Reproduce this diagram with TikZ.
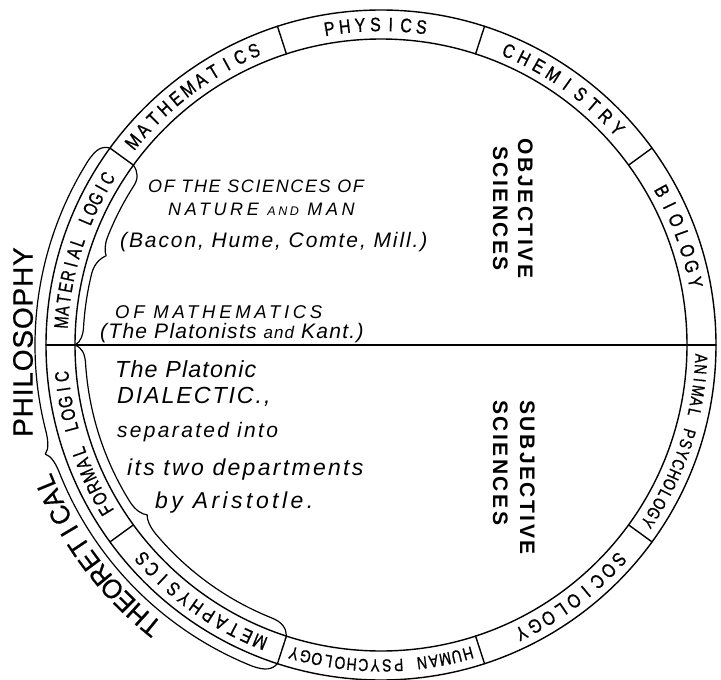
\documentclass[tikz,border=0pt]{standalone}
\usepackage{fontspec}
\usepackage{graphicx}
\setmainfont{Liberation Sans}
\newcommand\ringtext[7][0.82]{% #1 xscale, #2 name, #3 centre angle, #4 pitch, #5 radius, #6 font, #7 letters
  \foreach \ch [count=\i] in {#7} {\xdef\nch{\i}}%
  \foreach \ch [count=\i] in {#7} {%
    \pgfmathsetmacro\ang{#3+#4*((\nch+1)/2-\i)}%
    \pgfmathsetmacro\rot{\ang-90}%
    \node[font={#6}, rotate=\rot, inner sep=0pt] (#2\i) at (\ang:#5) {\scalebox{#1}[1]{\ch}};
  }%
}
\newcommand\hw[3]{{\fontsize{#1}{#1}\selectfont\itshape\addfontfeature{LetterSpace=#2}#3}}
\newcommand\rf{\fontsize{19.5}{20}\selectfont\addfontfeature{FakeBold=0.9}}
\newcommand\rfs{\fontsize{17.5}{18}\selectfont\addfontfeature{FakeBold=0.9}}
\newcommand\vf{\fontsize{21}{21}\selectfont\bfseries\addfontfeature{LetterSpace=12}}
\begin{document}
\begin{tikzpicture}[x=1pt,y=1pt,line cap=round,line join=round,
  ringline/.style={line width=1.4pt},
  brc/.style={line width=1.2pt},
  txt/.style={inner sep=0pt, anchor=base west}]
\useasboundingbox (0,0) rectangle (721,-680);
\begin{scope}[shift={(381,-345)}]
  \draw[ringline] (0,0) circle[radius=335];
  \draw[ringline] (0,0) circle[radius=306];
  \foreach \a in {36,72,108,144,216,252,288,324}
    \draw[ringline] (\a:306) -- (\a:335);
  \coordinate (L) at (180:335);
  \coordinate (R) at (0:335);
  \draw[ringline] (L) -- (R);
  % inner brace: material logic
  \draw[brc] (144:306) .. controls (144.6:298) and (145.5:294) .. (147.5:294)
    arc[start angle=147.5, end angle=158.5, radius=294]
    .. controls (160:294) and (161.3:292) .. (162:289)
    .. controls (162.7:293) and (164:298) .. (166:298)
    arc[start angle=166, end angle=176.5, radius=298]
    .. controls (178:298) and (179.4:300) .. (180:306);
  % inner brace: formal logic + metaphysics
  \draw[brc] (180:306) .. controls (180.6:299) and (181.5:296) .. (184:296)
    arc[start angle=184, end angle=212, radius=296]
    .. controls (214:296) and (215.3:293) .. (216:289)
    .. controls (216.7:292) and (218:294) .. (220:294)
    arc[start angle=220, end angle=248, radius=294]
    .. controls (250.5:294) and (251.5:299) .. (252:306);
  % outer brace: theoretical philosophy
  \draw[brc] (144:335) .. controls (144.5:343) and (145.5:346) .. (148:346)
    arc[start angle=148, end angle=194, radius=346]
    .. controls (196:346) and (197.4:348) .. (198:353)
    .. controls (198.6:348) and (200:346) .. (202:346)
    arc[start angle=202, end angle=248, radius=346]
    .. controls (250.5:346) and (251.5:342) .. (252:335);
  % ring labels
  \ringtext{phy}{91}{2.75}{320.5}{\rf}{P,H,Y,S,I,C,S}
  \ringtext{che}{54.5}{3.0}{320.5}{\rf}{C,H,E,M,I,S,T,R,Y}
  \ringtext{bio}{20}{2.9}{320.5}{\rf}{B,I,O,L,O,G,Y}
  \ringtext[0.78]{ani}{-18}{1.95}{320.5}{\rfs}{A,N,I,M,A,L,~,P,S,Y,C,H,O,L,O,G,Y}
  \ringtext{soc}{-53}{2.75}{320.5}{\rf}{S,O,C,I,O,L,O,G,Y}
  \ringtext[0.8]{hum}{-90}{2.1}{320.5}{\rfs}{H,U,M,A,N,~,P,S,Y,C,H,O,L,O,G,Y}
  \ringtext{met}{234.8}{2.6}{320.5}{\rf}{M,E,T,A,P,H,Y,S,I,C,S}
  \ringtext[0.78]{for}{198.3}{2.3}{320.5}{\rf}{F,O,R,M,A,L,~,L,O,G,I,C}
  \ringtext[0.75]{mat}{162.3}{2.1}{320.5}{\rf}{M,A,T,E,R,I,A,L,~,L,O,G,I,C}
  \ringtext{mth}{127}{2.73}{320.5}{\rf}{M,A,T,H,E,M,A,T,I,C,S}
  \ringtext[0.95]{the}{216.5}{2.85}{363}{\fontsize{27}{27}\selectfont\addfontfeature{FakeBold=0.6}}{T,H,E,O,R,E,T,I,C,A,L}
\end{scope}
\node[rotate=90, inner sep=0pt, font={\fontsize{28}{28}\selectfont\addfontfeature{LetterSpace=3,FakeBold=0.6}}] (phil) at (23,-342) {PHILOSOPHY};
% interior texts
\node[txt] (t1) at (148,-192) {\hw{18}{9}{OF THE SCIENCES OF}};
\node[txt] (t2) at (168,-215) {\hw{18}{20}{NATURE {\fontsize{12.5}{12.5}\selectfont AND} MAN}};
\node[txt] (t3) at (120,-247) {\hw{21}{9}{(Bacon, Hume, Comte, Mill.)}};
\node[txt] (t4) at (115,-318) {\hw{18.5}{20}{OF MATHEMATICS}};
\node[txt] (t5) at (100,-338) {\hw{21}{6}{(The Platonists {\fontsize{17}{17}\selectfont and} Kant.)}};
\node[txt] (t6) at (115,-377) {\hw{23.3}{5}{The Platonic}};
\node[txt] (t7) at (117,-403) {\hw{23.3}{8}{DIALECTIC.,}};
\node[txt] (t8) at (117,-437) {\hw{21}{11}{separated into}};
\node[txt] (t9) at (127,-475) {\hw{23}{10}{its two departments}};
\node[txt] (t10) at (155,-508) {\hw{23}{15}{by Aristotle.}};
% vertical labels
\node[rotate=-90, inner sep=0pt, anchor=base, font=\vf] (obj1) at (518,-208.5) {OBJECTIVE};
\node[rotate=-90, inner sep=0pt, anchor=base, font=\vf] (obj2) at (493,-208.5) {SCIENCES};
\node[rotate=-90, inner sep=0pt, anchor=base west, font=\vf] (sub1) at (520,-400) {SUBJECTIVE};
\node[rotate=-90, inner sep=0pt, anchor=base west, font=\vf] (sub2) at (493,-400) {SCIENCES};
\end{tikzpicture}
\end{document}
